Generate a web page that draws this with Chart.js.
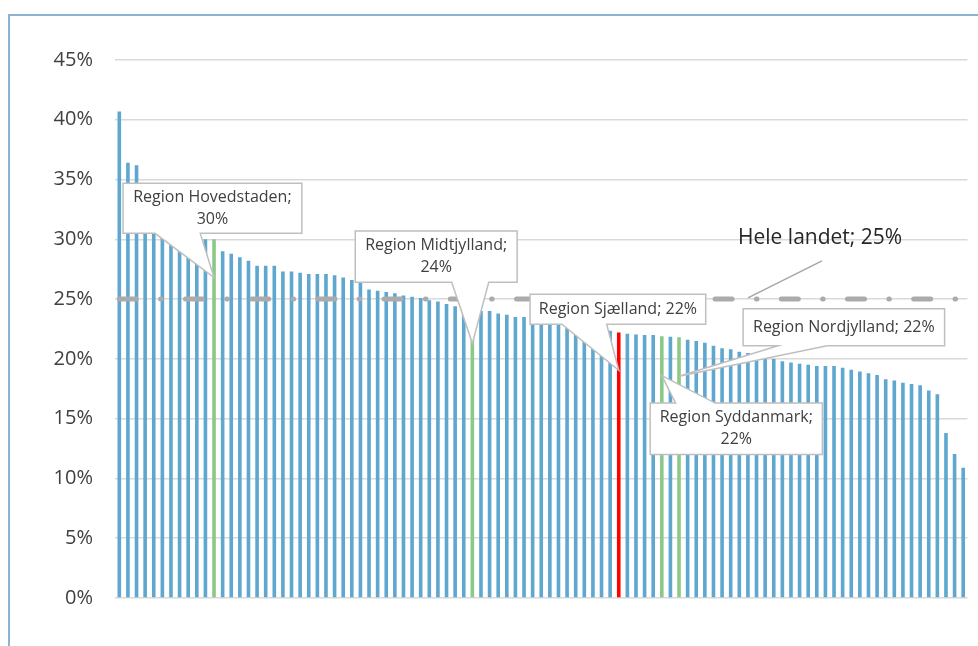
<!DOCTYPE html>
<html>
<head>
<meta charset="utf-8">
<script src="https://cdn.jsdelivr.net/npm/chart.js@4/dist/chart.umd.min.js"></script>
<style>
    html, body { margin: 0; padding: 0; background: #fff; }
    #wrap { position: relative; width: 978px; height: 646px; overflow: hidden; }
    #frame { position: absolute; left: 8px; top: 14px; width: 2000px; height: 2000px; border-left: 2px solid #8db3d3; border-top: 2px solid #8db3d3; }
    canvas { position: absolute; left: 0; top: 0; }
</style>
</head>
<body>
<div id="wrap">
    <div id="frame"></div>
    <canvas id="myChart" width="978" height="646"></canvas>
</div>
<script>
// andel i procent, sorteret faldende (kommuner + regioner)
const shares = [
    40.7, 36.4, 36.2, 32.5, 31.8, 31.2, 30.8, 30.5, 30.3, 30.1,
    30.0, 30.0, 29.0, 28.8, 28.5, 28.2, 27.8, 27.8, 27.8, 27.3,
    27.3, 27.2, 27.1, 27.1, 27.1, 27.0, 26.8, 26.6, 26.4, 25.8,
    25.7, 25.6, 25.5, 25.3, 25.2, 25.1, 24.9, 24.8, 24.6, 24.4,
    24.2, 24.0, 24.0, 24.0, 23.8, 23.7, 23.5, 23.5, 23.4, 23.2,
    23.0, 22.9, 22.8, 22.7, 22.6, 22.5, 22.4, 22.35, 22.2, 22.1,
    22.05, 22.0, 22.0, 21.9, 21.85, 21.8, 21.6, 21.5, 21.35, 21.1,
    20.9, 20.8, 20.6, 20.5, 20.3, 20.15, 20.0, 19.8, 19.7, 19.6,
    19.5, 19.4, 19.4, 19.4, 19.25, 19.1, 18.95, 18.8, 18.65, 18.3,
    18.2, 18.0, 17.9, 17.8, 17.35, 17.05, 13.8, 12.05, 10.9
];
const categories = shares.map((_, i) => String(i + 1));
const yTicks = [0, 5, 10, 15, 20, 25, 30, 35, 40, 45];

const regionNames = ['Region Hovedstaden', 'Region Midtjylland', 'Region Sjælland', 'Region Syddanmark', 'Region Nordjylland'];
const regionIndex = [11, 41, 58, 63, 65];
const regionLabels = [30, 24, 22, 22, 22];

const countryName = 'Hele landet';
const countryShare = 25;

const blue = '#5FA7CF';
const green = '#8CC888';
const red = '#FF0000';

const barColors = shares.map((v, i) => {
    const r = regionIndex.indexOf(i);
    if (r === -1) return blue;
    return regionNames[r] === 'Region Sjælland' ? red : green;
});

// callout placement in scale units: box [left idx, right idx, top %, bottom %], pointer base idx, tip [idx, %]
const calloutLayout = [
    { wrap: true,  box: [0.43, 21.2, 34.7, 30.5],  base: [4.15, 9.4],  tip: [11, 26.8] },
    { wrap: true,  box: [27.4, 46.2, 30.7, 26.4],  base: [38.6, 42.9], tip: [41, 21.3] },
    { wrap: false, box: [47.7, 68.1, 25.4, 22.9],  base: [51.4, 56.6], tip: [58, 19.05] },
    { wrap: true,  box: [61.65, 81.65, 16.3, 12.0], base: [64.6, 69.2], tip: [63, 18.6] },
    { wrap: false, box: [72.44, 95.84, 24.2, 21.1], base: [76.5, 82.2], tip: [65, 18.55] }
];

function drawCallout(ctx, x, y, layout, name, value) {
    const left = x.getPixelForValue(layout.box[0]);
    const right = x.getPixelForValue(layout.box[1]);
    const top = y.getPixelForValue(layout.box[2]);
    const bottom = y.getPixelForValue(layout.box[3]);
    const b1 = x.getPixelForValue(layout.base[0]);
    const b2 = x.getPixelForValue(layout.base[1]);
    const tx = x.getPixelForValue(layout.tip[0]);
    const ty = y.getPixelForValue(layout.tip[1]);

    ctx.beginPath();
    if (ty > bottom) {
        ctx.moveTo(left, top);
        ctx.lineTo(right, top);
        ctx.lineTo(right, bottom);
        ctx.lineTo(b2, bottom);
        ctx.lineTo(tx, ty);
        ctx.lineTo(b1, bottom);
        ctx.lineTo(left, bottom);
    } else {
        ctx.moveTo(left, top);
        ctx.lineTo(b1, top);
        ctx.lineTo(tx, ty);
        ctx.lineTo(b2, top);
        ctx.lineTo(right, top);
        ctx.lineTo(right, bottom);
        ctx.lineTo(left, bottom);
    }
    ctx.closePath();
    ctx.fillStyle = '#ffffff';
    ctx.fill();
    ctx.lineWidth = 1.5;
    ctx.strokeStyle = '#bfbfbf';
    ctx.stroke();

    ctx.fillStyle = '#404040';
    ctx.font = '16px "Open Sans"';
    ctx.textAlign = 'center';
    ctx.textBaseline = 'middle';
    const cx = (left + right) / 2;
    const cy = (top + bottom) / 2;
    if (layout.wrap) {
        ctx.fillText(name + ';', cx, cy - 11);
        ctx.fillText(value + '%', cx, cy + 11);
    } else {
        ctx.fillText(name + '; ' + value + '%', cx, cy);
    }
}

const calloutPlugin = {
    id: 'callouts',
    afterDatasetsDraw(chart) {
        const ctx = chart.ctx;
        const x = chart.scales.x;
        const y = chart.scales.y;
        ctx.save();

        // Hele landet label + leader
        ctx.beginPath();
        ctx.moveTo(x.getPixelForValue(81.6), y.getPixelForValue(28.2));
        ctx.lineTo(x.getPixelForValue(73.0), y.getPixelForValue(25.1));
        ctx.strokeStyle = '#a6a6a6';
        ctx.lineWidth = 1.5;
        ctx.stroke();
        ctx.fillStyle = '#262626';
        ctx.font = '21px "Open Sans"';
        ctx.textAlign = 'left';
        ctx.textBaseline = 'middle';
        ctx.fillText(countryName + '; ' + countryShare + '%', x.getPixelForValue(71.85), y.getPixelForValue(30.1));

        calloutLayout.forEach((layout, i) => {
            drawCallout(ctx, x, y, layout, regionNames[i], regionLabels[i]);
        });
        ctx.restore();
    }
};

const ctx = document.getElementById('myChart').getContext('2d');
new Chart(ctx, {
    type: 'bar',
    data: {
        labels: categories,
        datasets: [{
            type: 'line',
            label: countryName,
            data: shares.map(() => countryShare),
            borderColor: '#ababab',
            borderWidth: 5,
            borderDash: [17, 24.35, 0.5, 24.35],
            borderCapStyle: 'round',
            pointRadius: 0,
            fill: false,
            order: 0
        }, {
            label: 'Andel',
            data: shares,
            backgroundColor: barColors,
            barPercentage: 0.42,
            categoryPercentage: 1,
            order: 1
        }]
    },
    options: {
        responsive: false,
        animation: false,
        layout: {
            padding: { top: 60, bottom: 48, left: 45, right: 10.5 }
        },
        plugins: {
            legend: { display: false },
            tooltip: { enabled: false }
        },
        scales: {
            x: {
                display: false
            },
            y: {
                min: 0,
                max: 45,
                afterFit: scale => { scale.width = 70; },
                afterBuildTicks: scale => { scale.ticks = yTicks.map(v => ({ value: v })); },
                ticks: {
                    padding: 22,
                    color: '#404040',
                    font: { family: 'Open Sans', size: 20 },
                    callback: v => v + '%'
                },
                grid: { color: '#d9d9d9', lineWidth: 1.5, drawTicks: false },
                border: { display: false }
            }
        }
    },
    plugins: [calloutPlugin]
});
</script>
</body>
</html>
